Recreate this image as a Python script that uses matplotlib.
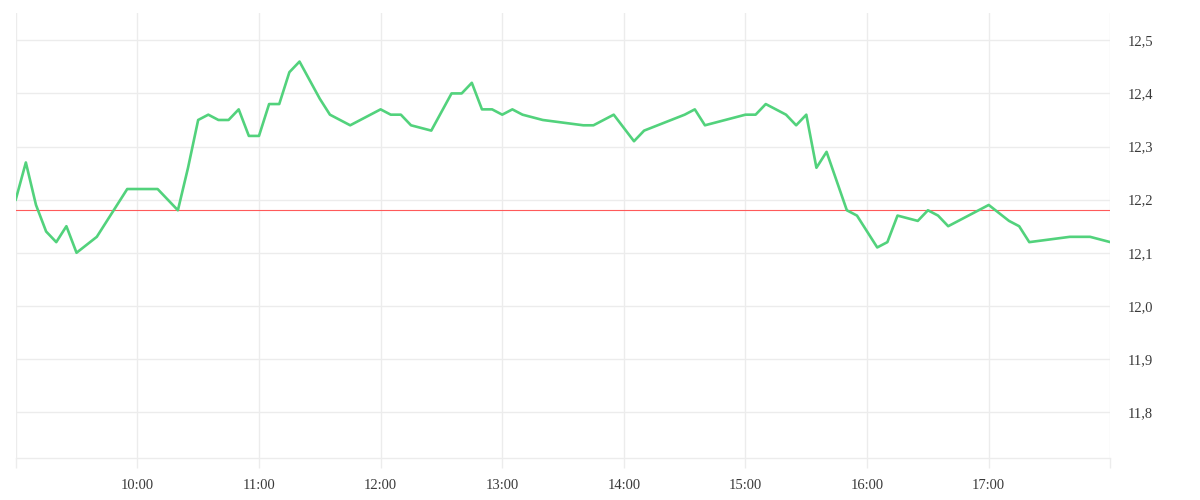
import matplotlib
matplotlib.use("Agg")
import matplotlib.pyplot as plt

times = ["09:00", "09:05", "09:10", "09:15", "09:20", "09:25", "09:30", "09:40", "09:55",
         "10:10", "10:20", "10:25", "10:30", "10:35", "10:40", "10:45", "10:50", "10:55",
         "11:00", "11:05", "11:10", "11:15", "11:20", "11:30", "11:35", "11:45", "12:00",
         "12:05", "12:10", "12:15", "12:25", "12:35", "12:40", "12:45", "12:50", "12:55",
         "13:00", "13:05", "13:10", "13:20", "13:40", "13:45", "13:55", "14:05", "14:10",
         "14:30", "14:35", "14:40", "15:00", "15:05", "15:10", "15:20", "15:25", "15:30",
         "15:35", "15:40", "15:50", "15:55", "16:05", "16:10", "16:15", "16:25", "16:30",
         "16:35", "16:40", "17:00", "17:10", "17:15", "17:20", "17:40", "17:50", "18:00"]
prices = [12.20, 12.27, 12.19, 12.14, 12.12, 12.15, 12.10, 12.13, 12.22,
          12.22, 12.18, 12.26, 12.35, 12.36, 12.35, 12.35, 12.37, 12.32,
          12.32, 12.38, 12.38, 12.44, 12.46, 12.39, 12.36, 12.34, 12.37,
          12.36, 12.36, 12.34, 12.33, 12.40, 12.40, 12.42, 12.37, 12.37,
          12.36, 12.37, 12.36, 12.35, 12.34, 12.34, 12.36, 12.31, 12.33,
          12.36, 12.37, 12.34, 12.36, 12.36, 12.38, 12.36, 12.34, 12.36,
          12.26, 12.29, 12.18, 12.17, 12.11, 12.12, 12.17, 12.16, 12.18,
          12.17, 12.15, 12.19, 12.16, 12.15, 12.12, 12.13, 12.13, 12.12]
reference_price = 12.18
hour_ticks = list(range(9, 19))
hour_labels = ["", "10:00", "11:00", "12:00", "13:00", "14:00", "15:00", "16:00", "17:00", ""]
y_ticks = [11.8, 11.9, 12.0, 12.1, 12.2, 12.3, 12.4, 12.5]
y_labels = [f"{v:.1f}".replace(".", ",") for v in y_ticks]


def to_hours(s):
    h, m = s.split(":")
    return int(h) + int(m) / 60.0


x = [to_hours(t) for t in times]

fig = plt.figure(figsize=(12, 5), dpi=100)
ax = fig.add_axes([0.0131, 0.0834, 0.9122, 0.8912])
grid_c = "#ececec"
ax.plot(x, prices, color="#52d27c", lw=1.9, solid_joinstyle="round", zorder=3)
ax.axhline(reference_price, color="#ff5a5a", lw=0.8, zorder=2)

ax.set_xlim(9, 18)
ax.set_ylim(11.713, 12.552)
ax.set_xticks(hour_ticks)
ax.set_xticklabels(hour_labels)
ax.set_yticks(y_ticks)
ax.set_yticklabels(y_labels)
ax.yaxis.tick_right()

for s in ["top", "left", "right"]:
    ax.spines[s].set_visible(False)
ax.spines["bottom"].set_color(grid_c)
ax.spines["bottom"].set_linewidth(1)

ax.grid(True, color=grid_c, lw=1)
ax.set_axisbelow(True)
ax.tick_params(axis="x", length=7.2, width=1, color=grid_c, pad=7.5,
               labelsize=10.5, labelcolor="#3a3a3a")
ax.tick_params(axis="y", length=0, pad=12.5, labelsize=10.5, labelcolor="#3a3a3a")
for lab in ax.get_xticklabels() + ax.get_yticklabels():
    lab.set_family("Liberation Serif")

fig.savefig("out.png", dpi=100, facecolor="white")
